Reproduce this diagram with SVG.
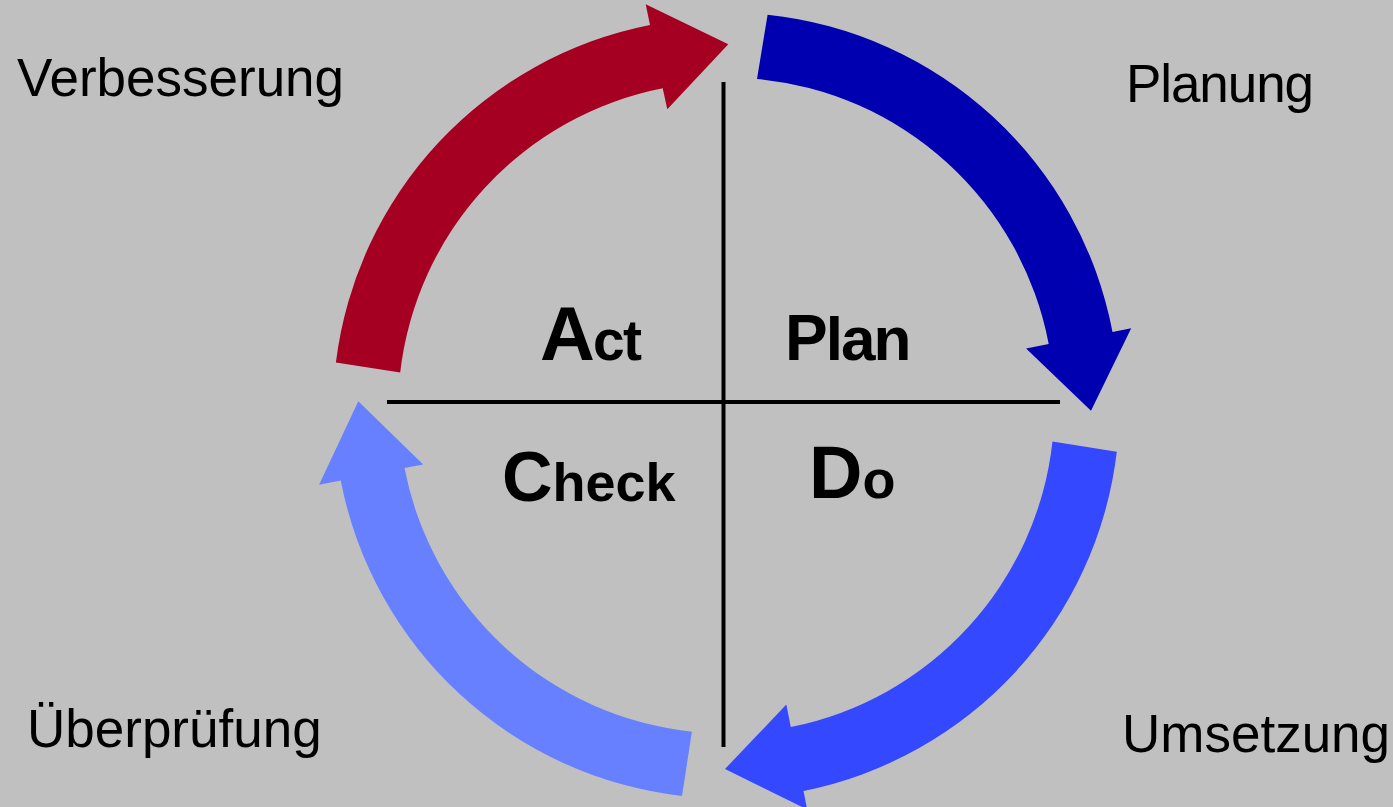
<svg xmlns="http://www.w3.org/2000/svg" width="1393" height="807" viewBox="0 0 1393 807">
<style>
.lbl{font-family:"Liberation Sans",Arial,sans-serif;font-size:53px;fill:#000}
.big{font-family:"Liberation Sans",Arial,sans-serif;font-weight:bold;fill:#000}
.axis{stroke:#000;stroke-width:4;fill:none}
</style>
<rect x="0" y="0" width="1393" height="807" fill="#C0C0C0"/>
<g id="axes">
<line class="axis" x1="723.5" y1="82" x2="723.5" y2="747"/>
<line class="axis" x1="387" y1="402" x2="1060" y2="402"/>
</g>
<g id="connectors">
<path id="arrow-plan" fill="#0000B0" d="M767.6,14.7 A393,393 0 0 1 1112.5,331.9 L1131.2,328.3 L1091,410.7 L1026.1,348.4 L1048.7,344.0 A328,328 0 0 0 757.0,78.9 Z"/>
<path id="arrow-do" fill="#3448FF" d="M1116.8,451.8 A393,393 0 0 1 803.5,790.9 L807.2,809.5 L725,769 L786.3,704.6 L790.8,727.1 A328,328 0 0 0 1052.5,441.4 Z"/>
<path id="arrow-check" fill="#6680FF" d="M682.0,796.0 A393,393 0 0 1 340.7,480.5 L319.1,484.7 L358.3,401.3 L423.2,464.5 L404.5,468.1 A328,328 0 0 0 691.9,731.7 Z"/>
<path id="arrow-act" fill="#A50021" d="M335.9,362.4 A393,393 0 0 1 650,25 L645.7,4.3 L728.3,44.3 L667.3,109.3 L662.7,88.3 A328,328 0 0 0 400.2,372.4 Z"/>
</g>
<g id="node-act"><text class="big" x="540" y="360"><tspan font-size="76" letter-spacing="-2">A</tspan><tspan font-size="57" letter-spacing="-1.5">ct</tspan></text></g>
<g id="node-plan"><text class="big" x="785" y="360" letter-spacing="-2"><tspan font-size="64">P</tspan><tspan font-size="62">lan</tspan></text></g>
<g id="node-check"><text class="big" x="502" y="501"><tspan font-size="70">C</tspan><tspan font-size="54">heck</tspan></text></g>
<g id="node-do"><text class="big" x="809" y="498"><tspan font-size="74">D</tspan><tspan font-size="54">o</tspan></text></g>
<g id="label-verbesserung"><text class="lbl" x="17" y="96">Verbesserung</text></g>
<g id="label-planung"><text class="lbl" x="1126" y="102" textLength="188">Planung</text></g>
<g id="label-ueberpruefung"><text class="lbl" x="27" y="747">Überprüfung</text></g>
<g id="label-umsetzung"><text class="lbl" x="1122" y="752">Umsetzung</text></g>
</svg>
